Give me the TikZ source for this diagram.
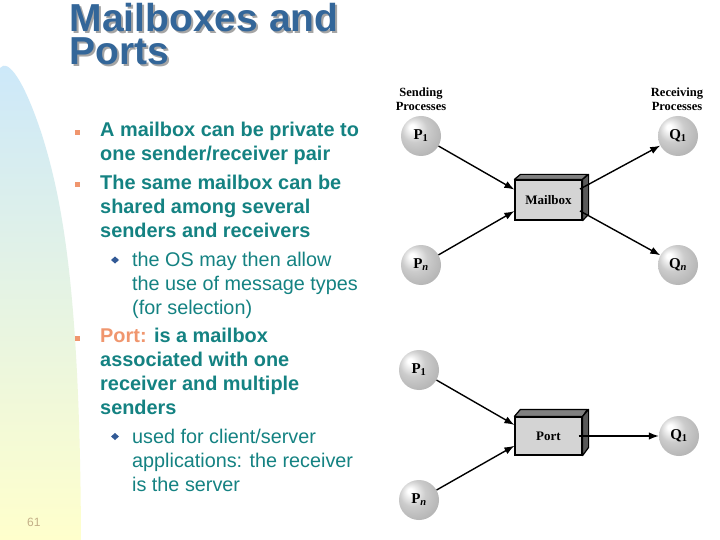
\documentclass[tikz,border=0pt]{standalone}
\usepackage{fontspec}
\setmainfont{Liberation Sans}
\newfontfamily\timesf{Liberation Serif}
\usetikzlibrary{arrows.meta,calc}
\definecolor{tealtxt}{RGB}{20,130,130}
\definecolor{titleblue}{RGB}{51,102,153}
\definecolor{shadowgray}{RGB}{165,165,165}
\definecolor{orangebul}{RGB}{240,150,110}
\definecolor{diablue}{RGB}{50,90,150}
\definecolor{pagenum}{RGB}{195,175,135}
\definecolor{bgtop}{RGB}{204,232,250}
\definecolor{bgmid}{RGB}{228,244,222}
\definecolor{bgbot}{RGB}{255,255,204}
\pgfdeclareradialshading{procball}{\pgfpoint{-12bp}{12bp}}{%
  color(0bp)=(white); color(3bp)=(white);
  color(16bp)=(black!20); color(34bp)=(black!31); color(50bp)=(black!46)}
\tikzset{
  maintxt/.style={anchor=base west, inner sep=0pt, text=tealtxt, font=\fontsize{19.9}{24}\selectfont\bfseries},
  subtxt/.style={anchor=base west, inner sep=0pt, text=tealtxt, font=\fontsize{19.8}{24}\selectfont},
  sqbullet/.style={fill=orangebul, minimum size=5pt, inner sep=0pt, draw=none},
  titletxt/.style={anchor=base west, inner sep=0pt, font=\fontsize{39}{39}\selectfont\bfseries},
  proc/.style={circle, minimum size=40pt, inner sep=0pt, shading=procball, font=\timesf\fontsize{15}{15}\selectfont\bfseries},
  hdr/.style={anchor=base, inner sep=0pt, font=\timesf\fontsize{12.5}{12.5}\selectfont\bfseries},
  boxfront/.style={draw=black, line width=1.2pt, fill=black!17, minimum width=67pt, inner sep=0pt, font=\timesf\fontsize{13}{13}\selectfont\bfseries},
  boxtop/.style={draw=black, line width=1.2pt, fill=black!50, line join=round},
  boxside/.style={draw=black, line width=1.2pt, fill=black!65, line join=round},
  arr/.style={line width=1.4pt, -{Latex[length=10pt,width=7.5pt]}}
}
\begin{document}
\begin{tikzpicture}[x=1pt,y=-1pt]
\useasboundingbox (0,0) rectangle (720,540);
\fill[white] (0,0) rectangle (720,540);
% background swoosh
\shade[top color=bgtop, middle color=bgmid, bottom color=bgbot, draw=none]
  (0,540) -- (0,68) .. controls (8,58) and (24,80) .. (42,135)
  .. controls (64,205) and (80,300) .. (81,540) -- cycle;
% title
\node[titletxt, text=shadowgray] (titleS1) at (71.5,33.5) {Mailboxes and};
\node[titletxt, text=shadowgray] (titleS2) at (71.5,67) {Ports};
\node[titletxt, text=titleblue] (title1) at (69.5,31.5) {Mailboxes and};
\node[titletxt, text=titleblue] (title2) at (69.5,65) {Ports};
% bullets
\node[sqbullet] (b1) at (77.5,132.5) {};
\node[sqbullet] (b2) at (77.5,185) {};
\node[sqbullet] (b3) at (77.5,338.5) {};
\fill[diablue] (111,260) -- (115,256.5) -- (119,260) -- (115,263.5) -- cycle;
\fill[diablue] (111,436.5) -- (115,433) -- (119,436.5) -- (115,440) -- cycle;
\node[maintxt] (l1) at (100,136.7) {A mailbox can be private to};
\node[maintxt] (l2) at (100,160.7) {one sender/receiver pair};
\node[maintxt] (l3) at (100,189.3) {The same mailbox can be};
\node[maintxt] (l4) at (100,213.3) {shared among several};
\node[maintxt] (l5) at (100,237.3) {senders and receivers};
\node[subtxt] (s1) at (132,266.7) {the OS may then allow};
\node[subtxt] (s2) at (132,290.7) {the use of message types};
\node[subtxt] (s3) at (132,314.7) {(for selection)};
\node[maintxt] (l6) at (100,342.7) {\textcolor{orangebul}{Port:} is a mailbox};
\node[maintxt] (l7) at (100,366.7) {associated with one};
\node[maintxt] (l8) at (100,390.7) {receiver and multiple};
\node[maintxt] (l9) at (100,414.7) {senders};
\node[subtxt] (s4) at (132,443.3) {used for client/server};
\node[subtxt] (s5) at (132,467.3) {applications: the receiver};
\node[subtxt] (s6) at (132,491.3) {is the server};
\node[anchor=base west, inner sep=0pt, text=pagenum, font=\fontsize{12}{12}\selectfont] (pg) at (27,526) {61};
% headers
\node[hdr] (h1) at (421,96.7) {Sending};
\node[hdr] (h2) at (421,110.7) {Processes};
\node[hdr] (h3) at (677,96.7) {Receiving};
\node[hdr] (h4) at (677,110.7) {Processes};
% mailbox diagram
\node[proc] (p1) at (421,136) {P\textsubscript{1}};
\node[proc] (pn) at (421,265) {P\textsubscript{\itshape n}};
\node[proc] (q1) at (678,136) {Q\textsubscript{1}};
\node[proc] (qn) at (678,265) {Q\textsubscript{\itshape n}};
\node[boxfront, minimum height=40pt] (mbox) at (548.5,200) {Mailbox};
\draw[boxtop] (mbox.north west) -- ++(6,-5) -- ++(67,0) -- (mbox.north east) -- cycle;
\draw[boxside] (mbox.north east) -- ++(6,-5) -- ++(0,40) -- (mbox.south east) -- cycle;
\draw[arr] (p1) -- (mbox.163);
\draw[arr] (pn) -- (mbox.198);
\draw[arr, shorten <=-3pt] (mbox.20) -- (q1);
\draw[arr, shorten <=-3pt] (mbox.340) -- (qn);
% port diagram
\node[proc] (p1b) at (419,370) {P\textsubscript{1}};
\node[proc] (pnb) at (419,500) {P\textsubscript{\itshape n}};
\node[proc] (q1b) at (679,436) {Q\textsubscript{1}};
\node[boxfront, minimum height=38pt] (port) at (548.5,436) {Port};
\draw[boxtop] (port.north west) -- ++(6,-7) -- ++(67,0) -- (port.north east) -- cycle;
\draw[boxside] (port.north east) -- ++(6,-7) -- ++(0,38) -- (port.south east) -- cycle;
\draw[arr] (p1b) -- (port.162);
\draw[arr] (pnb) -- (port.196);
\draw[arr, shorten <=-4pt] (port.east) -- (q1b);
\end{tikzpicture}
\end{document}
